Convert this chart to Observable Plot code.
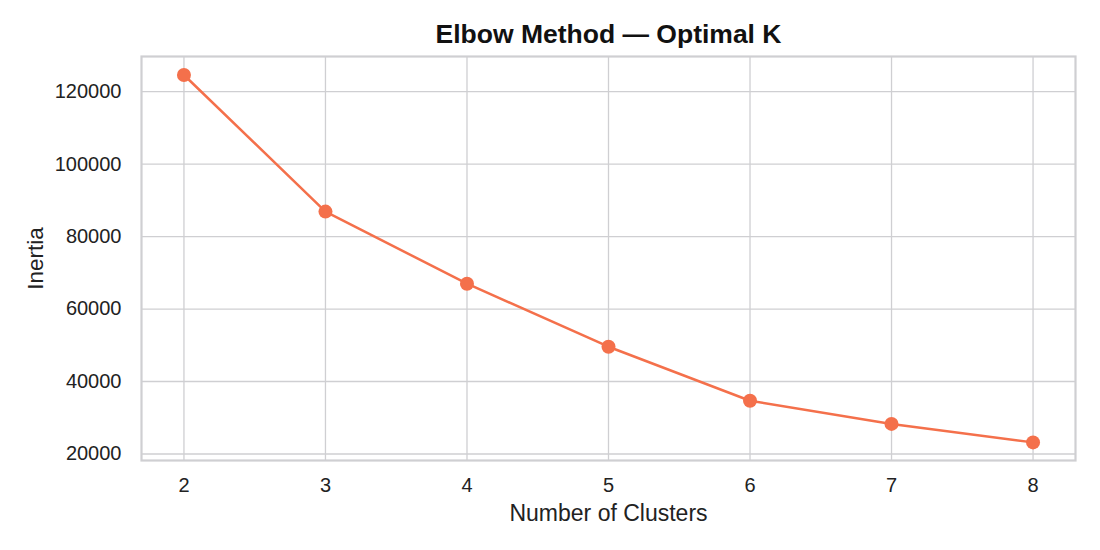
<!DOCTYPE html>
<html>
<head>
<meta charset="utf-8">
<script src="https://cdn.jsdelivr.net/npm/d3@7"></script>
<script src="https://cdn.jsdelivr.net/npm/@observablehq/plot@0.6"></script>
<style>
  html, body { margin: 0; padding: 0; background: #fff; }
  #chart svg { display: block; }
</style>
</head>
<body>
<div id="chart"></div>
<script>
const titleText = "Elbow Method — Optimal K";
const xLabel = "Number of Clusters";
const yLabel = "Inertia";
const clusters = [2, 3, 4, 5, 6, 7, 8];
const inertia = [124600, 86900, 67000, 49600, 34700, 28300, 23200];
const xTicks = [2, 3, 4, 5, 6, 7, 8];
const yTicks = [20000, 40000, 60000, 80000, 100000, 120000];

const data = clusters.map((k, i) => ({k, v: inertia[i]}));
const lineColor = "#f4704b";
const gridColor = "#cfcfd2";

const chart = Plot.plot({
  width: 1100,
  height: 550,
  marginLeft: 141,
  marginRight: 25,
  marginTop: 56,
  marginBottom: 90,
  style: {fontFamily: "'Liberation Sans', Arial, sans-serif", color: "#222", background: "#fff"},
  x: {domain: [1.7, 8.3], ticks: xTicks},
  y: {domain: [18200, 129700], ticks: yTicks},
  marks: [
    Plot.gridX(xTicks, {stroke: gridColor, strokeOpacity: 1, strokeWidth: 1.3}),
    Plot.gridY(yTicks, {stroke: gridColor, strokeOpacity: 1, strokeWidth: 1.3}),
    Plot.frame({stroke: gridColor, strokeWidth: 2.2}),
    Plot.axisX(xTicks, {tickSize: 0, tickPadding: 17, fontSize: 20, label: null, tickFormat: d => String(d)}),
    Plot.axisY(yTicks, {tickSize: 0, tickPadding: 20, fontSize: 20, label: null, tickFormat: d => String(d)}),
    Plot.line(data, {x: "k", y: "v", stroke: lineColor, strokeWidth: 2.5}),
    Plot.dot(data, {x: "k", y: "v", fill: lineColor, r: 7}),
    Plot.text([titleText], {frameAnchor: "top", lineAnchor: "middle", textAnchor: "middle", dy: -22, fontSize: 26.5, fontWeight: "bold", fill: "#111"}),
    Plot.text([xLabel], {frameAnchor: "bottom", lineAnchor: "middle", textAnchor: "middle", dy: 53, fontSize: 23, fill: "#222"}),
    Plot.text([yLabel], {frameAnchor: "left", lineAnchor: "middle", textAnchor: "middle", dx: -106, rotate: -90, fontSize: 22.5, fill: "#222"})
  ]
});
document.getElementById("chart").appendChild(chart);
</script>
</body>
</html>
